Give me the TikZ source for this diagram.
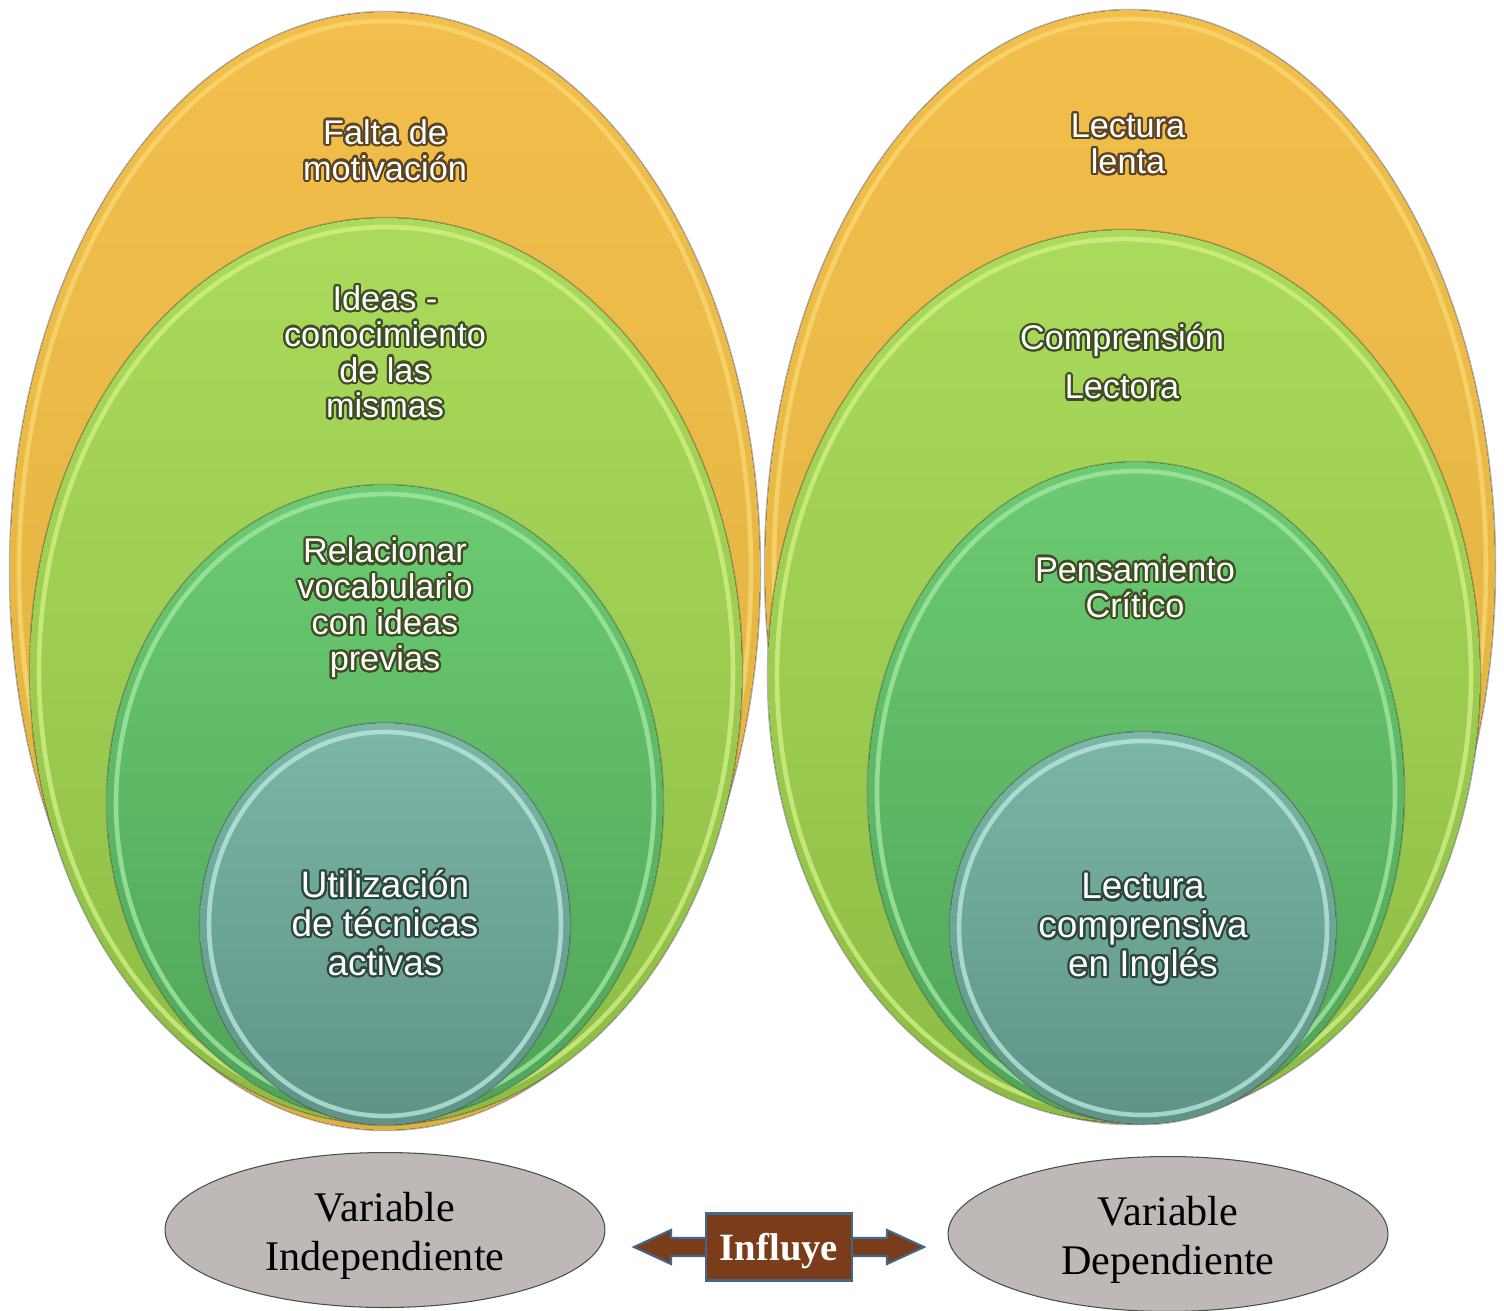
\documentclass[tikz,border=0pt]{standalone}
\usepackage{fontspec}
\setmainfont{Liberation Serif}
\newfontfamily\smartfont{Liberation Sans}
\usepackage{contour}
\contourlength{1.3pt}
\usetikzlibrary{shapes.geometric}

\definecolor{orangetop}{HTML}{F2BE4C}
\definecolor{orangebot}{HTML}{DDB23E}
\definecolor{orangerim}{HTML}{F9DA74}
\definecolor{limetop}{HTML}{ABDB5C}
\definecolor{limebot}{HTML}{8CBC44}
\definecolor{limerim}{HTML}{D4F288}
\definecolor{greentop}{HTML}{6CCB72}
\definecolor{greenbot}{HTML}{4EA459}
\definecolor{greenrim}{HTML}{A6EAA6}
\definecolor{tealtop}{HTML}{7BB6A7}
\definecolor{tealbot}{HTML}{5E9385}
\definecolor{tealrim}{HTML}{BDEBE2}
\definecolor{glowbrown}{HTML}{5C4420}
\definecolor{glowgreen}{HTML}{3E4D22}
\definecolor{glowteal}{HTML}{2C463D}
\definecolor{vargray}{HTML}{BEB8B6}
\definecolor{arrowbrown}{HTML}{7A3C19}
\definecolor{arrowedge}{HTML}{41678A}

\newcommand{\glow}[2]{\contour{#1}{#2}}

\begin{document}
\begin{tikzpicture}[x=0.02cm, y=-0.02cm,
  ringtext/.style={text=white, align=center, inner sep=0pt,
    font=\smartfont\fontsize{19.5}{20.4}\selectfont},
  coretext/.style={ringtext, font=\smartfont\fontsize{21}{22.1}\selectfont},
  varnode/.style={ellipse, draw=black!70, fill=vargray, line width=0.6pt,
    minimum width=8.8cm, minimum height=3.1cm, inner sep=0pt, align=center,
    text height=51pt, font=\fontsize{24}{28}\selectfont},
  influbox/.style={draw=arrowedge, fill=arrowbrown, line width=1.2pt,
    minimum width=2.92cm, minimum height=1.34cm, inner sep=0pt, text=white,
    text height=20pt, font=\bfseries\fontsize{22}{24}\selectfont}]
\useasboundingbox (0,0) rectangle (1504,1311);

% nested ellipses, outer to inner, left group then right group
\foreach \cx/\cy/\rx/\ry/\topc/\botc/\rimc in {
  385/571/375/559/orangetop/orangebot/orangerim,
  386/671/356/453/limetop/limebot/limerim,
  385/803/278/318/greentop/greenbot/greenrim,
  385/924/185/201/tealtop/tealbot/tealrim,
  1130/567/365/557/orangetop/orangebot/orangerim,
  1124/676/356/446/limetop/limebot/limerim,
  1136/792/268/330/greentop/greenbot/greenrim,
  1143/928/193/196/tealtop/tealbot/tealrim}
{
  \draw[black!60, line width=1.4pt, opacity=0.5] (\cx,\cy) ellipse [x radius=\rx, y radius=\ry];
  \fill[top color=\topc, bottom color=\botc] (\cx,\cy) ellipse [x radius=\rx, y radius=\ry];
  \draw[\rimc, line width=2.6pt, opacity=0.75] (\cx,\cy) ellipse [x radius=\rx-9, y radius=\ry-9];
}

% labels
\node[ringtext] (falta) at (385,151) {\glow{glowbrown}{Falta de}\\\glow{glowbrown}{motivación}};
\node[ringtext] (ideas) at (385,353) {\glow{glowgreen}{Ideas -}\\\glow{glowgreen}{conocimiento}\\\glow{glowgreen}{de las}\\\glow{glowgreen}{mismas}};
\node[ringtext] (relac) at (385,609) {\glow{glowgreen}{Relacionar}\\\glow{glowgreen}{vocabulario}\\\glow{glowgreen}{con ideas}\\\glow{glowgreen}{previas}};
\node[coretext] (tecnicas) at (385,924) {\glow{glowteal}{Utilización}\\\glow{glowteal}{de técnicas}\\\glow{glowteal}{activas}};

\node[ringtext] (lenta) at (1128,145) {\glow{glowbrown}{Lectura}\\\glow{glowbrown}{lenta}};
\node[ringtext, font=\smartfont\fontsize{19.5}{28}\selectfont] (compr) at (1122,363) {\glow{glowgreen}{Comprensión}\\\glow{glowgreen}{Lectora}};
\node[ringtext] (critico) at (1135,588) {\glow{glowgreen}{Pensamiento}\\\glow{glowgreen}{Crítico}};
\node[coretext] (ingles) at (1143,930) {\glow{glowteal}{Lectura}\\\glow{glowteal}{comprensiva}\\\glow{glowteal}{en Inglés}};

% variables
\node[varnode] (indep) at (385,1230) {Variable\\Independiente};
\node[varnode] (dep) at (1168,1234) {Variable\\Dependiente};

% double arrow
\draw[arrowedge, fill=arrowbrown, line width=1.2pt, line join=miter]
  (634,1247) -- (671,1230) -- (671,1238) -- (887,1238) -- (887,1230) -- (924,1247)
  -- (887,1264) -- (887,1256) -- (671,1256) -- (671,1264) -- cycle;
\node[influbox] (influye) at (779,1247) {Influye};
\end{tikzpicture}
\end{document}
